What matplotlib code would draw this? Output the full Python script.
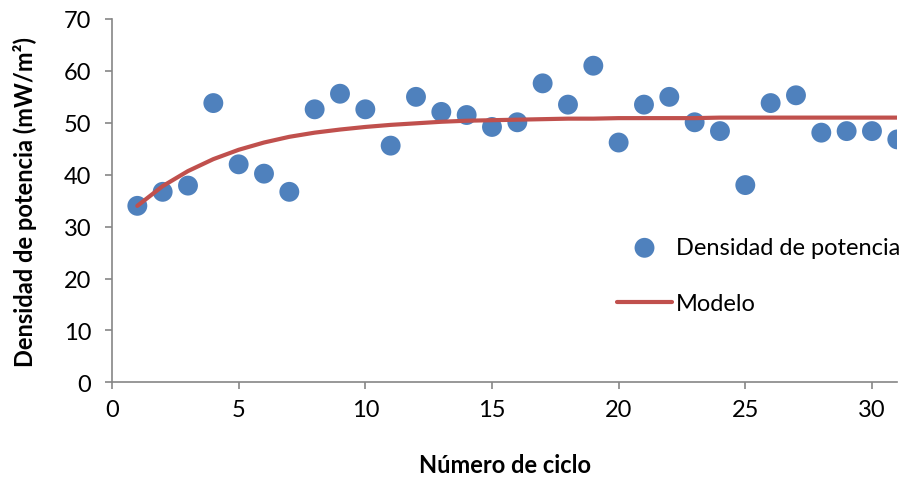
import matplotlib
matplotlib.use("Agg")
import matplotlib.pyplot as plt

ciclo = list(range(1, 32))
densidad = [34.0, 36.7, 37.9, 53.8, 42.0, 40.2, 36.7, 52.6, 55.6, 52.6,
            45.6, 55.0, 52.1, 51.5, 49.2, 50.1, 57.6, 53.5, 61.0, 46.2,
            53.5, 55.0, 50.1, 48.4, 38.0, 53.8, 55.3, 48.1, 48.4, 48.4, 46.8]
modelo = [34.0, 37.8, 40.7, 43.0, 44.8, 46.2, 47.3, 48.1, 48.7, 49.2,
          49.6, 49.9, 50.2, 50.4, 50.5, 50.6, 50.7, 50.8, 50.8, 50.9,
          50.9, 50.9, 50.9, 51.0, 51.0, 51.0, 51.0, 51.0, 51.0, 51.0, 51.0]
xticks = [0, 5, 10, 15, 20, 25, 30]
yticks = [0, 10, 20, 30, 40, 50, 60, 70]

plt.rcParams['font.family'] = ['Lato', 'DejaVu Sans']
FS = 17

fig = plt.figure(figsize=(9.12, 4.81), dpi=100)
ax = fig.add_axes([112/912, 1-383.3/481, (897.3-112)/912, (383.3-20)/481])

ax.scatter(ciclo, densidad, s=205, color='#4F81BD', edgecolors='none',
           label='Densidad de potencia', zorder=3)
ax.plot(ciclo, modelo, color='#C0504D', lw=3.0, solid_capstyle='round',
        label='Modelo', zorder=4)

ax.set_xlim(0, 31)
ax.set_ylim(0, 70)
ax.set_xticks(xticks)
ax.set_yticks(yticks)
for s in ['top', 'right']:
    ax.spines[s].set_visible(False)
for s in ['left', 'bottom']:
    ax.spines[s].set_color('#868686')
    ax.spines[s].set_linewidth(1.2)
ax.tick_params(direction='out', color='#868686', length=5, width=1.2,
               labelsize=FS, labelcolor='black')
ax.tick_params(axis='y', pad=10)
ax.tick_params(axis='x', pad=7)

ax.set_xlabel('Número de ciclo', fontsize=FS, fontweight='bold', labelpad=24)
ax.set_ylabel('Densidad de potencia (mW/m²)', fontsize=FS, fontweight='bold', labelpad=19)

ax.legend(loc='upper left', bbox_to_anchor=(617/912, 1-238/481),
          bbox_transform=fig.transFigure, frameon=False, fontsize=FS,
          handlelength=2.33, handletextpad=0.17, labelspacing=1.5,
          borderpad=0, borderaxespad=0, scatterpoints=1)

fig.savefig('out.png', dpi=100)
